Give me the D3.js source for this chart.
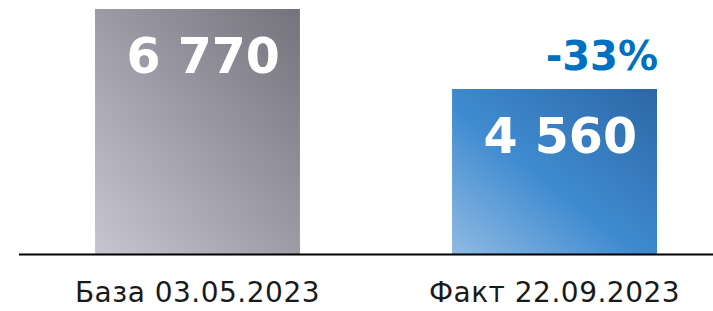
<!DOCTYPE html>
<html>
<head>
<meta charset="utf-8">
<script src="https://cdn.jsdelivr.net/npm/d3@7"></script>
<style>
  html, body { margin: 0; padding: 0; background: #fff; }
  svg { display: block; }
</style>
</head>
<body>
<div id="chart"></div>
<script>
const categories = ["База 03.05.2023", "Факт 22.09.2023"];
const values = [6770, 4560];
const valueLabels = ["6 770", "4 560"];
const changeLabel = "-33%";

const width = 713;
const height = 311;
const baseY = 254;

const svg = d3.select("#chart")
  .append("svg")
  .attr("width", width)
  .attr("height", height);

const defs = svg.append("defs");

const grads = [
  { id: "g0", stops: [[0, "#c6c5d0"], [1, "#74737c"]] },
  { id: "g1", stops: [[0, "#8fbae3"], [0.45, "#3f8bd0"], [1, "#2d67a5"]] }
];
grads.forEach(g => {
  const lg = defs.append("linearGradient")
    .attr("id", g.id)
    .attr("x1", 0).attr("y1", 1)
    .attr("x2", 1).attr("y2", 0);
  g.stops.forEach(s => lg.append("stop").attr("offset", s[0]).attr("stop-color", s[1]));
});

const x = d3.scaleBand()
  .domain(categories)
  .range([95, 657])
  .paddingInner(0.426)
  .paddingOuter(0);

const y = d3.scaleLinear()
  .domain([0, 6770])
  .range([baseY, 9]);

svg.append("g")
  .selectAll("rect")
  .data(values)
  .join("rect")
  .attr("x", (d, i) => x(categories[i]))
  .attr("y", d => y(d))
  .attr("width", x.bandwidth())
  .attr("height", d => y(0) - y(d))
  .attr("fill", (d, i) => `url(#g${i})`);

// baseline
svg.append("line")
  .attr("x1", 19).attr("x2", width)
  .attr("y1", baseY + 0.5).attr("y2", baseY + 0.5)
  .attr("stroke", "#000")
  .attr("stroke-width", 2);

// values inside bars
svg.append("g")
  .selectAll("text")
  .data(values)
  .join("text")
  .attr("x", (d, i) => x(categories[i]) + x.bandwidth() - 20)
  .attr("y", d => y(d) + 64)
  .attr("text-anchor", "end")
  .attr("font-family", "DejaVu Sans, sans-serif")
  .attr("font-weight", "bold")
  .attr("font-size", 49)
  .attr("fill", "#fff")
  .text((d, i) => valueLabels[i]);

// change label
svg.append("text")
  .attr("x", x(categories[1]) + x.bandwidth() + 1)
  .attr("y", y(values[1]) - 19)
  .attr("text-anchor", "end")
  .attr("font-family", "DejaVu Sans, sans-serif")
  .attr("font-weight", "bold")
  .attr("font-size", 40)
  .attr("fill", "#0070c0")
  .text(changeLabel);

// category labels
svg.append("g")
  .selectAll("text")
  .data(categories)
  .join("text")
  .attr("x", d => x(d) + x.bandwidth() / 2)
  .attr("y", 302)
  .attr("text-anchor", "middle")
  .attr("font-family", "DejaVu Sans, sans-serif")
  .attr("font-size", 28)
  .attr("letter-spacing", 0.5)
  .attr("fill", "#1a1a1a")
  .text(d => d);
</script>
</body>
</html>
